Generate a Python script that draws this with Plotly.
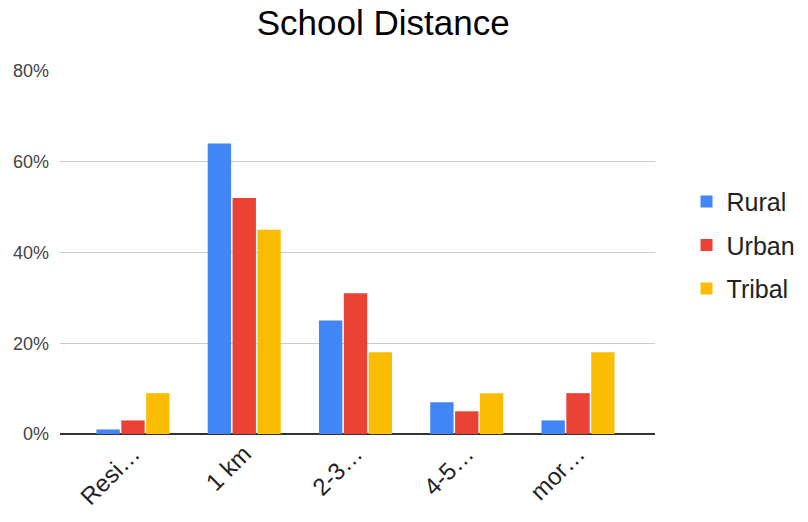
import plotly.graph_objects as go

categories = ["Resi…", "1 km", "2-3…", "4-5…", "mor…"]
rural = [1, 64, 25, 7, 3]
urban = [3, 52, 31, 5, 9]
tribal = [9, 45, 18, 9, 18]
series_names = ["Rural", "Urban", "Tribal"]
colors = ["#4285F4", "#EA4335", "#FBBC04"]
y_ticks = [0, 20, 40, 60, 80]
y_tick_labels = ["0%", "20%", "40%", "60%", "80%"]

fig = go.Figure()
for name, vals, col in zip(series_names, [rural, urban, tribal], colors):
    fig.add_trace(go.Bar(
        x=list(range(len(categories))), y=vals, name=name,
        marker=dict(color=col, line=dict(width=0)),
        legendgroup=name,
    ))

fig.update_layout(
    width=800, height=514,
    paper_bgcolor="white", plot_bgcolor="white",
    margin=dict(l=52, r=153, t=63, b=88, autoexpand=False),
    barmode="group", bargap=0.33, bargroupgap=0.06,
    font=dict(family="Arial, Liberation Sans, sans-serif", color="#444"),
    title=dict(text="School Distance", x=0.469, xanchor="center", y=0.971, yanchor="middle",
               font=dict(size=35, color="#000")),
    legend=dict(x=1.053, xanchor="left", y=0.52, yanchor="middle",
                font=dict(size=25, color="#222"), tracegroupgap=8,
                itemwidth=30),
    showlegend=True,
)
fig.update_xaxes(
    range=[-0.656, 4.692], tickmode="array",
    tickvals=list(range(len(categories))), ticktext=categories,
    tickangle=-45, tickfont=dict(size=24, color="#222"),
    showline=False, showgrid=False, zeroline=False, ticks="",
    fixedrange=True,
)
fig.update_yaxes(
    range=[0, 80], tickmode="array", tickvals=y_ticks, ticktext=y_tick_labels,
    tickfont=dict(size=18, color="#444"), showgrid=True, gridcolor="#cccccc",
    gridwidth=1, zeroline=True, zerolinecolor="#333333", zerolinewidth=1.5,
    showline=False, ticks="", ticklabelstandoff=10,
)
fig.write_html("out.html")
